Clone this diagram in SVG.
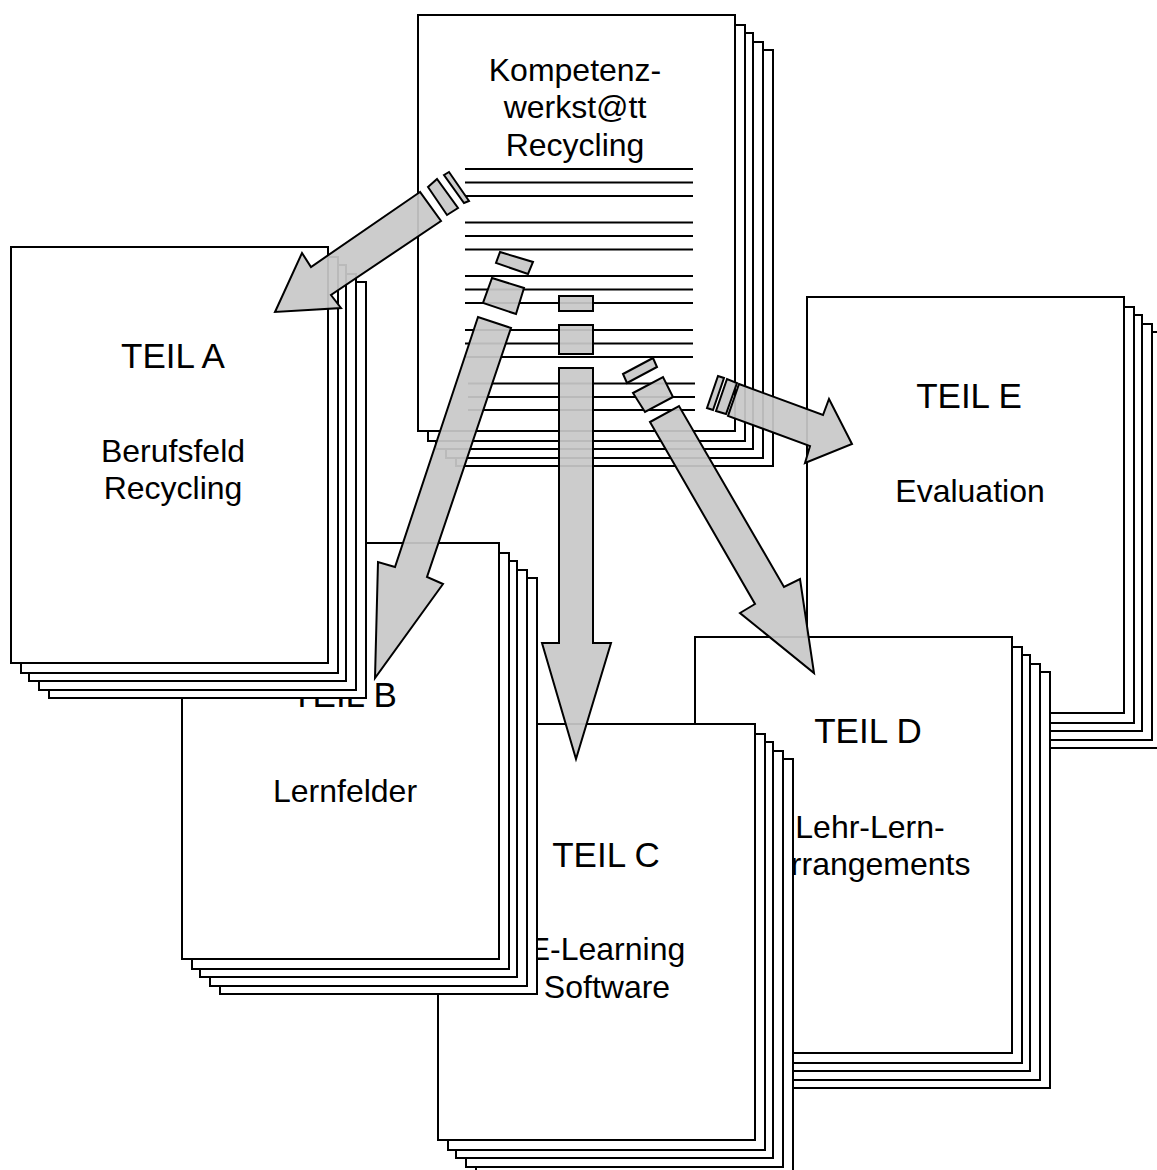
<svg xmlns="http://www.w3.org/2000/svg" xmlns:xlink="http://www.w3.org/1999/xlink" width="1157" height="1170" viewBox="0 0 1157 1170">
  <style>
    .page { fill: #ffffff; stroke: #000000; stroke-width: 2; }
    .rule { stroke: #000000; stroke-width: 2; }
    .head { font-family: "Liberation Sans", Arial, sans-serif; font-size: 35px; fill: #000000; text-anchor: middle; }
    .body { font-family: "Liberation Sans", Arial, sans-serif; font-size: 32px; fill: #000000; text-anchor: middle; }
    .arrow { fill: #c8c8c8; fill-opacity: 0.93; stroke: #000000; stroke-width: 2; stroke-linejoin: miter; }
  </style>
  <defs>
    <!-- a stack of five sheets, front sheet at the origin -->
    <g id="stack">
      <rect class="page" x="38" y="35" width="317" height="416"/>
      <rect class="page" x="28" y="27" width="317" height="416"/>
      <rect class="page" x="18" y="18" width="317" height="416"/>
      <rect class="page" x="10" y="10" width="317" height="416"/>
      <rect class="page" x="0" y="0" width="317" height="416"/>
    </g>
  </defs>

  <rect x="0" y="0" width="1157" height="1170" fill="#ffffff"/>

  <!-- Teil E -->
  <g id="teil-e">
    <use xlink:href="#stack" x="807" y="297"/>
    <text class="head" x="969" y="408">TEIL E</text>
    <text class="body" x="970" y="502">Evaluation</text>
  </g>

  <!-- Teil D -->
  <g id="teil-d">
    <use xlink:href="#stack" x="695" y="637"/>
    <text class="head" x="868" y="743">TEIL D</text>
    <text class="body" x="870" y="838">Lehr-Lern-</text>
    <text class="body" x="870" y="875">Arrangements</text>
  </g>

  <!-- Teil C -->
  <g id="teil-c">
    <use xlink:href="#stack" x="438" y="724"/>
    <text class="head" x="606" y="867">TEIL C</text>
    <text class="body" x="607" y="960">E-Learning</text>
    <text class="body" x="607" y="998">Software</text>
  </g>

  <!-- Teil B -->
  <g id="teil-b">
    <use xlink:href="#stack" x="182" y="543"/>
    <text class="head" x="344" y="707">TEIL B</text>
    <text class="body" x="345" y="802">Lernfelder</text>
  </g>

  <!-- Teil A -->
  <g id="teil-a">
    <use xlink:href="#stack" x="11" y="247"/>
    <text class="head" x="173" y="368">TEIL A</text>
    <text class="body" x="173" y="462">Berufsfeld</text>
    <text class="body" x="173" y="499">Recycling</text>
  </g>

  <!-- main document -->
  <g id="kompetenzwerkstatt">
    <use xlink:href="#stack" x="418" y="15"/>
    <text class="body" x="575" y="81">Kompetenz-</text>
    <text class="body" x="575" y="118">werkst@tt</text>
    <text class="body" x="575" y="156">Recycling</text>
    <g class="rule">
      <line x1="465" y1="169" x2="693" y2="169"/>
      <line x1="465" y1="182.5" x2="693" y2="182.5"/>
      <line x1="465" y1="196" x2="693" y2="196"/>
      <line x1="465" y1="222.5" x2="693" y2="222.5"/>
      <line x1="465" y1="236" x2="693" y2="236"/>
      <line x1="465" y1="249.5" x2="693" y2="249.5"/>
      <line x1="465" y1="276" x2="693" y2="276"/>
      <line x1="465" y1="289.5" x2="693" y2="289.5"/>
      <line x1="465" y1="303" x2="693" y2="303"/>
      <line x1="465" y1="330" x2="693" y2="330"/>
      <line x1="465" y1="343.5" x2="693" y2="343.5"/>
      <line x1="465" y1="357" x2="693" y2="357"/>
      <line x1="468" y1="383.5" x2="695" y2="383.5"/>
      <line x1="468" y1="397" x2="695" y2="397"/>
      <line x1="468" y1="410" x2="695" y2="410"/>
    </g>
  </g>

  <!-- connectors: broken arrows from the main document to each part -->
  <g id="connectors">
    <!-- to A -->
    <polygon class="arrow" points="444,175 449,172 469,201 464,203"/>
    <polygon class="arrow" points="428,187 437,179 458,208 447,215"/>
    <polygon class="arrow" points="420,192 311,267 302,253 275,312 341,308 331,295 441,221"/>
    <!-- to B -->
    <polygon class="arrow" points="500,252 533,262 528,274 496,263"/>
    <polygon class="arrow" points="492,278 524,288 516,314 483,303"/>
    <polygon class="arrow" points="478,317 395,567 378,562 375,678 443,584 427,577 511,328"/>
    <!-- to C -->
    <rect class="arrow" x="559" y="296" width="34" height="15"/>
    <rect class="arrow" x="559" y="325" width="34" height="29"/>
    <polygon class="arrow" points="559,368 559,643 542,643 576,759 611,643 593,643 593,368"/>
    <!-- to D -->
    <polygon class="arrow" points="623,374 653,358 657,367 627,383"/>
    <polygon class="arrow" points="633,393 663,377 673,397 645,412"/>
    <polygon class="arrow" points="650,422 755,604 740,613 814,673 800,579 784,587 679,406"/>
    <!-- to E -->
    <polygon class="arrow" points="707,408 718,376 724,378 713,410"/>
    <polygon class="arrow" points="716,411 727,379 737,383 726,414"/>
    <polygon class="arrow" points="739,384 823,415 829,399 852,444 805,463 810,446 728,416"/>
  </g>
</svg>
